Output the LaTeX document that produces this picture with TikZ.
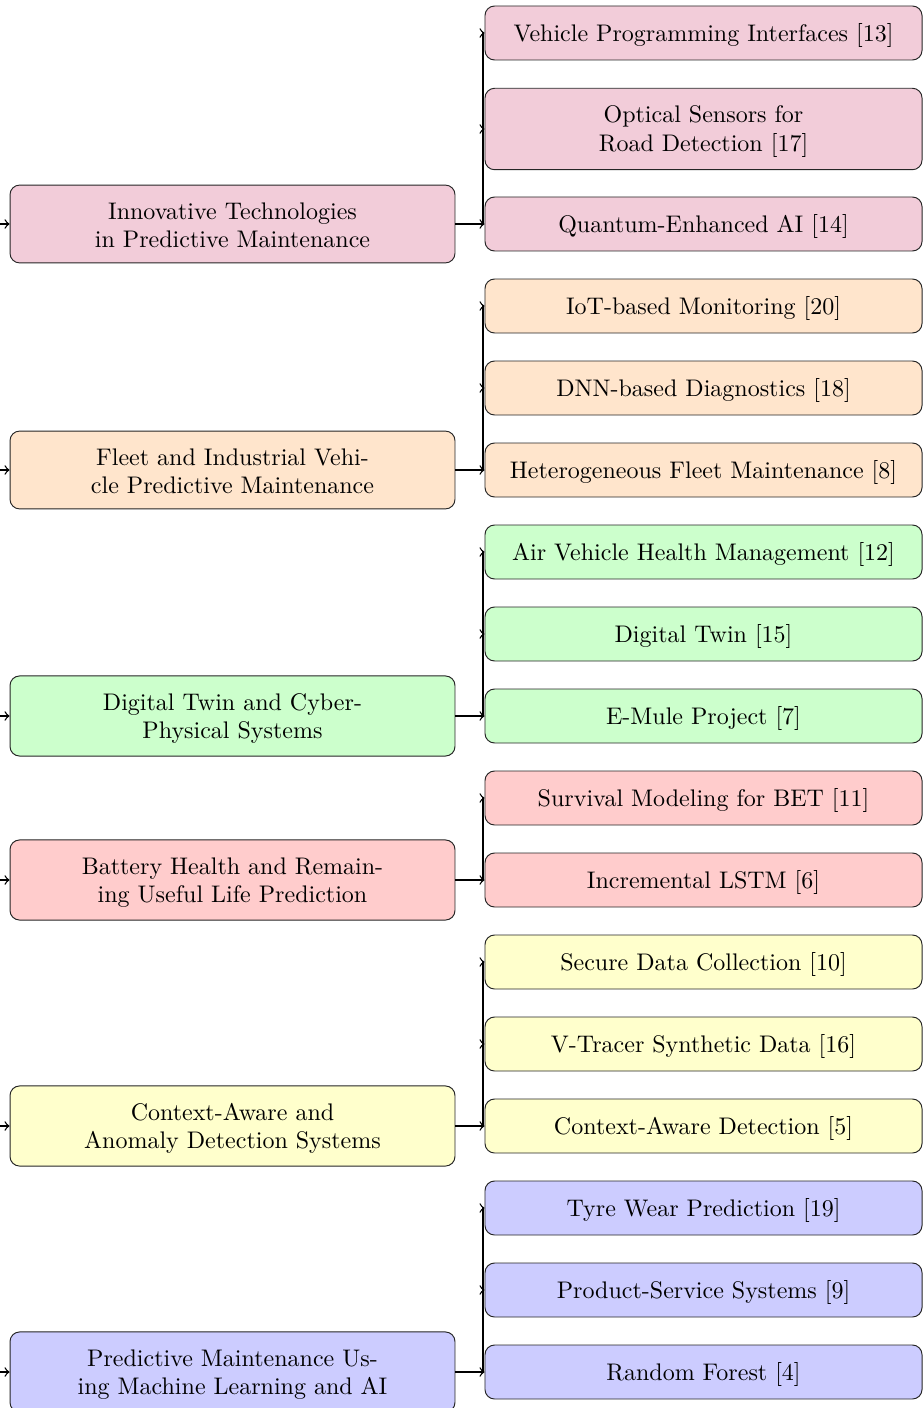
\documentclass[tikz,border=0pt]{standalone}
\usetikzlibrary{arrows}
\definecolor{cpink}{rgb}{0.95,0.8,0.85}
\definecolor{corange}{rgb}{1,0.9,0.8}
\definecolor{cgreen}{rgb}{0.8,1,0.8}
\definecolor{cred}{rgb}{1,0.8,0.8}
\definecolor{cyellow}{rgb}{1,1,0.8}
\definecolor{cblue}{rgb}{0.8,0.8,1}
\begin{document}
\begin{tikzpicture}[x=0.416667pt,y=-0.416667pt,
  box/.style={draw=black!85, rounded corners=4pt, align=center, inner sep=6.25pt, line width=0.4pt, font=\normalsize},
  cat/.style={box, minimum width=185.4pt, text height=19.94pt},
  catA/.style={cat, text depth=-1pt},
  catB/.style={cat, text depth=0.94pt},
  kid/.style={box, minimum width=182.1pt, minimum height=22.5pt, text height=8.5pt, text depth=1.5pt},
  kidtwo/.style={box, minimum width=182.1pt, text height=19.94pt, text depth=1.5pt},
  edge/.style={->, line width=0.55pt}]
\useasboundingbox (0,0) rectangle (923,1408);
\clip (0,0) rectangle (923,1408);

% categories
\node[catA, fill=cpink]   (c1) at (232.5,224)  {Innovative Technologies\\in Predictive Maintenance};
\node[catA, fill=corange] (c2) at (232.5,470)  {Fleet and Industrial Vehi-\\cle Predictive Maintenance};
\node[catB, fill=cgreen]  (c3) at (232.5,716)  {Digital Twin and Cyber-\\Physical Systems};
\node[catB, fill=cred]    (c4) at (232.5,880)  {Battery Health and Remain-\\ing Useful Life Prediction};
\node[catB, fill=cyellow] (c5) at (232.5,1126) {Context-Aware and\\Anomaly Detection Systems};
\node[catB, fill=cblue]   (c6) at (232.5,1372) {Predictive Maintenance Us-\\ing Machine Learning and AI};

% children
\node[kid, fill=cpink] (k11) at (703.5,33)  {Vehicle Programming Interfaces [13]};
\node[kidtwo, fill=cpink] (k12) at (703.5,129) {Optical Sensors for\\Road Detection [17]};
\node[kid, fill=cpink] (k13) at (703.5,224) {Quantum-Enhanced AI [14]};

\node[kid, fill=corange] (k21) at (703.5,306) {IoT-based Monitoring [20]};
\node[kid, fill=corange] (k22) at (703.5,388) {DNN-based Diagnostics [18]};
\node[kid, fill=corange] (k23) at (703.5,470) {Heterogeneous Fleet Maintenance [8]};

\node[kid, fill=cgreen] (k31) at (703.5,552) {Air Vehicle Health Management [12]};
\node[kid, fill=cgreen] (k32) at (703.5,634) {Digital Twin [15]};
\node[kid, fill=cgreen] (k33) at (703.5,716) {E-Mule Project [7]};

\node[kid, fill=cred] (k41) at (703.5,798) {Survival Modeling for BET [11]};
\node[kid, fill=cred] (k42) at (703.5,880) {Incremental LSTM [6]};

\node[kid, fill=cyellow] (k51) at (703.5,962)  {Secure Data Collection [10]};
\node[kid, fill=cyellow] (k52) at (703.5,1044) {V-Tracer Synthetic Data [16]};
\node[kid, fill=cyellow] (k53) at (703.5,1126) {Context-Aware Detection [5]};

\node[kid, fill=cblue] (k61) at (703.5,1208) {Tyre Wear Prediction [19]};
\node[kid, fill=cblue] (k62) at (703.5,1290) {Product-Service Systems [9]};
\node[kid, fill=cblue] (k63) at (703.5,1372) {Random Forest [4]};

% junction coordinates
\coordinate (j1) at (483,224);
\coordinate (j2) at (483,470);
\coordinate (j3) at (483,716);
\coordinate (j4) at (483,880);
\coordinate (j5) at (483,1126);
\coordinate (j6) at (483,1372);

% root edges (root lies outside the picture)
\coordinate (r1) at (-40,224);
\coordinate (r2) at (-40,470);
\coordinate (r3) at (-40,716);
\coordinate (r4) at (-40,880);
\coordinate (r5) at (-40,1126);
\coordinate (r6) at (-40,1372);
\foreach \i in {1,...,6} {\draw[edge] (r\i) -- (c\i.west);}

\foreach \k in {1,2,3} {\draw[edge] (c1.east) -- (j1) |- (k1\k.west);}
\foreach \k in {1,2,3} {\draw[edge] (c2.east) -- (j2) |- (k2\k.west);}
\foreach \k in {1,2,3} {\draw[edge] (c3.east) -- (j3) |- (k3\k.west);}
\foreach \k in {1,2}   {\draw[edge] (c4.east) -- (j4) |- (k4\k.west);}
\foreach \k in {1,2,3} {\draw[edge] (c5.east) -- (j5) |- (k5\k.west);}
\foreach \k in {1,2,3} {\draw[edge] (c6.east) -- (j6) |- (k6\k.west);}
\end{tikzpicture}
\end{document}
